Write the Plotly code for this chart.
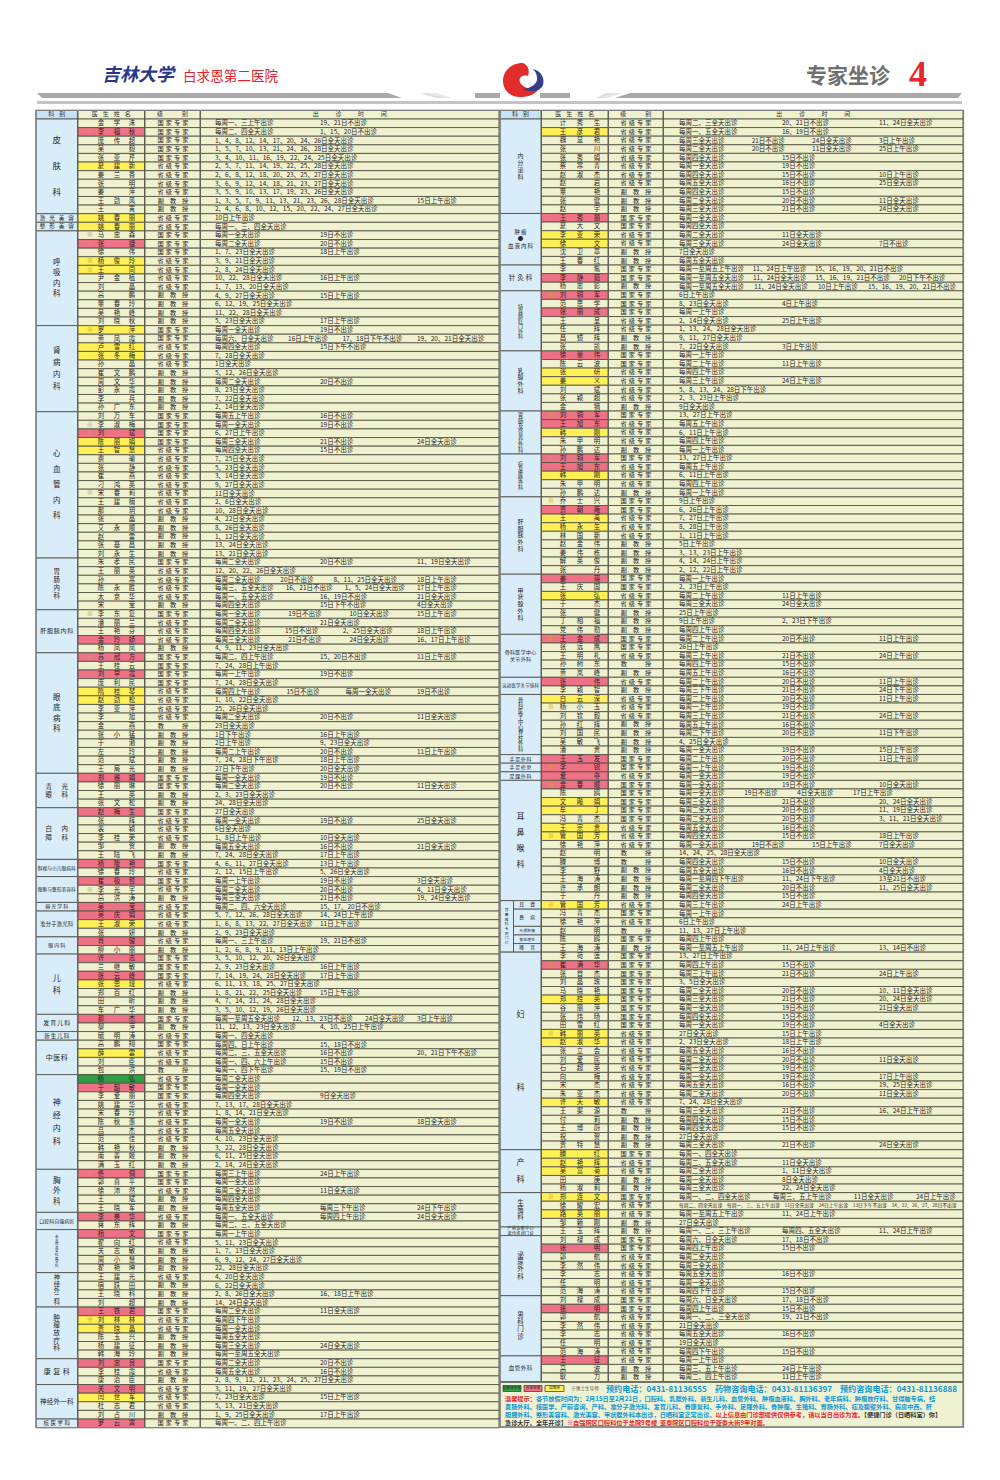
#!/usr/bin/env python3
"""Expert clinic timetable poster drawn as a bar/text chart on a pixel axis."""

import plotly.graph_objects as go

# ── Left table data ──
left_dept_labels = [
    "皮\n肤\n科", "激光美容", "整形美容", "呼\n吸\n内\n科", "肾\n病\n内\n科",
    "心\n血\n管\n内\n科", "胃\n肠\n内\n科", "肝胆胰内科", "眼\n底\n病\n科",
    "青光\n眼科", "白内\n障科", "斜视与小儿眼病科", "眼眶与整形美容科", "弱光学科",
    "准分子激光科", "眼内科", "儿\n科", "发育儿科", "新生儿科", "中医科",
    "神\n经\n内\n科", "胸\n外\n科", "口腔科自强病区", "老\n年\n病\n及\n全\n科\n医\n学\n科",
    "神\n经\n外\n二\n科", "肿\n瘤\n放\n疗\n科", "康复科",
    "神经外一科", "核医学科",
]
left_dept_rows = [11, 1, 1, 11, 10, 17, 6, 5, 14, 4, 6, 2, 3, 1, 3, 2, 7, 2, 1, 4, 11, 5, 2, 5, 4, 6, 3, 4, 1]

left_names = [
    "金学洙", "※李福秋", "庞传超", "吴毅", "张亚芹", "夏建新", "姜兰香", "张明", "姜萍", "王劲风", "王寅",
    "姚春丽", "姚春丽",
    "※马忠森", "※张捷", "徐伟", "※杨俊玲", "※王同", "尹金植", "刘晶", "高鹏", "董春玲", "吴艳峰", "刘晓秋",
    "※罗萍", "黄凤霞", "卢雪红", "张冬梅", "孙晶", "崔文鹏", "周文华", "彭永霞", "李兵", "孙广东",
    "刘万车", "※李淑梅", "※刘斌", "陈丽娟", "王智慧", "费瑜", "张静", "崔燕", "刁鸿英", "※宋春莉", "王建楠",
    "那玥", "张晶", "艾永顺", "赵雷", "张基昌", "刘永生",
    "朱孝民", "王丽英", "孙寒", "陈永胜", "太京华", "宋莹",
    "※李东复", "潘丽兰", "王艳芬", "金玲娇", "杨凤凤",
    "※苏冠方", "王桂云", "刘早霞", "庞利民", "隋桂琴", "赵劲松", "李亚萍", "李旭", "金燕", "张小猛", "于渤",
    "左玲", "范斌", "王局光",
    "※郑雅娟", "徐丽琳", "王英", "张文松",
    "赵梅生", "张辉", "裴颖", "李桂荣", "邹贺", "王陆飞",
    "杨隆艳", "徐春玲",
    "崔极哲", "※李光宇", "高洪涛",
    "吴莹",
    "吴庆娟", "王淑荣", "张妍",
    "肖骏", "柳小丽",
    "许志", "兰继敏", "张云峰", "张思瑾", "郑百红", "田昕", "车广华",
    "那杰", "黎萍",
    "毓明涛",
    "高鹏翔", "薛雲", "刘臣", "包洪",
    "杨弘", "于韶敏", "李爱丽", "姚建华", "宋春玲", "陈秋惠", "吕杰", "范佳", "韩艳秋", "南善姬", "满玉红",
    "※佟倜", "郭喜平", "徐沛然", "王斌", "王晓军",
    "李美华", "蒋东辉",
    "杨文", "翟向红", "关志敏", "周小慧", "翟艳坤",
    "王建光", "宿跃田", "王晓科", "刘超",
    "※王铁君", "※刘林林", "贾晓晶", "陈玉兴", "杨建征", "韩海玲",
    "刘忠良", "李桂霞", "康治臣",
    "关文明", "闫世军", "杜志君", "刘占川",
    "罗云霄",
]
# . plain, r pink, y yellow, g green
left_marks = "".join([
    ".r...y.....", "yy", ".r.yy......", "y.yy......", "..ryy............", "......", "...r.",
    "r.r.yy........", "r...", "r.....", "r.", "r..", "r", "ry.", "r.", "r.ry...", "r.", ".", ".y..",
    "gr.........", "r....", "r.", "r....", "....", "ryy...", "r..", "ry..", "r",
])
# G national expert, S provincial expert, J professor, F associate professor
left_levels = "".join([
    "GGGGGSSSSFF", "SS", "GGGSSSSFFFF", "GGSSSFFFFF", "GGGGSSSSSSSSFFFFF", "GSSSSF", "GSSSF",
    "GGGGSSSSJFFFFF", "GGFF", "GSSSFF", "GS", "GSF", "S", "SSF", "SF", "GGGSFFF", "GF", "S", "GSSJ",
    "SGGSSSSSFFF", "GGSFF", "SF", "GSFFF", "SFFF", "GSSFFF", "GSF", "SSSF", "G",
])
# | steps to the next timetable column, / flows the pieces along the row
left_times = [
    "每周一、三上午出诊|19、21日不出诊", "每周二、四全天出诊|1、15、20日不出诊",
    "1、4、8、12、14、17、20、24、26日全天出诊", "1、5、7、10、13、21、24、26、28日全天出诊",
    "3、4、10、11、16、19、22、24、25日全天出诊", "2、5、7、11、14、19、22、25、28日全天出诊",
    "2、6、8、12、18、20、23、25、27日全天出诊", "3、6、9、12、14、18、21、23、27日全天出诊",
    "3、5、9、10、13、17、19、23、26日全天出诊", "1、3、5、7、9、11、13、21、23、26、28日全天出诊||15日上午出诊",
    "2、4、6、8、10、12、15、20、22、24、27日全天出诊",
    "10日上午出诊", "每周一、三、四全天出诊",
    "每周一全天出诊|19日不出诊", "每周二全天出诊|20日不出诊", "1、7、23日全天出诊|18日上午出诊", "3、9、21日全天出诊",
    "2、8、24日全天出诊", "10、22、28日全天出诊|16日上午出诊", "1、7、13、20日全天出诊", "4、9、27日全天出诊|15日上午出诊",
    "6、12、19、25日全天出诊", "11、22、28日全天出诊", "5、23日全天出诊|17日上午出诊",
    "每周一全天出诊|19日不出诊", "每周六、日全天出诊/16日上午出诊/17、18日下午不出诊/19、20、21日全天出诊",
    "每周四全天出诊|15日下午不出诊", "7、28日全天出诊", "1日全天出诊", "5、12、26日全天出诊", "每周二全天出诊|20日不出诊",
    "8、23日全天出诊", "7、22日全天出诊", "2、14日全天出诊",
    "每周五上午出诊|16日不出诊", "每周一全天出诊|19日不出诊", "6、27日上午出诊", "每周三全天出诊|21日不出诊|24日全天出诊",
    "每周四全天出诊|15日不出诊", "7、25日全天出诊", "5、23日全天出诊", "3、14日全天出诊", "9、27日全天出诊", "11日全天出诊",
    "2、6日全天出诊", "10、28日全天出诊", "4、22日全天出诊", "8、26日全天出诊", "1、12日全天出诊", "13、24日全天出诊",
    "13、21日全天出诊",
    "每周二全天出诊|20日不出诊|11、19日全天出诊", "12、20、22、26日全天出诊",
    "每周二全天出诊/20日不出诊/8、11、25日全天出诊/18日上午出诊", "每周三、五全天出诊/16、21日不出诊/1、5、24日全天出诊/17日上午出诊",
    "每周一、五全天出诊|16、19日不出诊|21日全天出诊", "每周四全天出诊|15日下午不出诊|4日全天出诊",
    "每周一全天出诊/19日不出诊/10日全天出诊/15日上午出诊", "每周二全天出诊|21日全天出诊",
    "每周四全天出诊/15日不出诊/2、25日全天出诊/18日上午出诊", "每周三全天出诊/21日不出诊/24日全天出诊/16、17日上午出诊",
    "4、9、11、23日全天出诊",
    "每周二、四上午出诊|15、20日不出诊|11日上午出诊", "7、24、28日上午出诊", "每周一上午出诊|19日不出诊", "7、24、28日全天出诊",
    "每周四上午出诊/15日不出诊/每周一全天出诊/19日不出诊", "1、10、22日全天出诊", "25、26日全天出诊",
    "每周二全天出诊|20日不出诊|11日全天出诊", "23日全天出诊", "1日下午出诊|16日上午出诊", "2日上午出诊|9、23日全天出诊",
    "每周二上午出诊|20日不出诊|11日上午出诊", "7、24、28日下午出诊|18日上午出诊", "27日下午出诊|20日全天出诊",
    "每周一全天出诊|19日不出诊", "每周二全天出诊|20日不出诊|11日全天出诊", "2、3、23日全天出诊", "24、28日全天出诊",
    "27日全天出诊", "每周一全天出诊|19日不出诊|25日全天出诊", "6日全天出诊", "1、8日上午出诊|10日全天出诊",
    "每周五全天出诊|16日不出诊|21日全天出诊", "7、24、28日全天出诊|17日上午出诊",
    "4、6、11、27日全天出诊|13日上午出诊", "2、12、15日上午出诊|5、26日全天出诊",
    "每周一上午出诊|19日不出诊|3日全天出诊", "每周二全天出诊|20日不出诊|4、11日全天出诊", "每周三全天出诊|21日不出诊|19、24日全天出诊",
    "每周二、四、六全天出诊|15、17、20日不出诊",
    "5、7、12、26、28日全天出诊|14、24日上午出诊", "1、6、8、13、22、27日全天出诊|11日上午出诊", "2、9、23日全天出诊",
    "每周一、三上午出诊|19、21日不出诊", "1、2、6、8、9、11、13日上午出诊",
    "3、5、10、12、20、26日全天出诊", "2、9、23日全天出诊|16日上午出诊", "7、14、19、24、28日全天出诊|17日上午出诊",
    "6、11、13、18、25、27日全天出诊", "1、8、21、22、25日全天出诊|15日上午出诊", "4、7、14、21、24、28日全天出诊",
    "3、5、10、12、19、26日全天出诊",
    "每周一至周五全天出诊/12、13、23日不出诊/24日全天出诊/3日上午出诊", "11、12、13、23日全天出诊|4、10、25日上午出诊",
    "每周一、四全天出诊",
    "每周四、日上午出诊|15、18日不出诊", "每周二、三、五全天出诊|16日不出诊|20、21日下午不出诊", "每周一、四、六上午出诊|15日不出诊",
    "每周一、四下午出诊|15、19日不出诊",
    "每周二全天出诊", "每周一全天出诊", "每周四全天出诊|9日全天出诊", "7、13、17、28日全天出诊", "1、8、14、21日全天出诊",
    "每周一全天出诊|19日不出诊|18日全天出诊", "每周五全天出诊", "4、10、23日全天出诊", "3、22、28日全天出诊", "6、11、25日全天出诊",
    "2、14、24日全天出诊",
    "每周三上午出诊|24日上午出诊", "每周一全天出诊", "每周二全天出诊|11日全天出诊", "每周四全天出诊",
    "每周五全天出诊|每周三下午出诊|24日下午出诊",
    "每周一、五全天出诊|每周四上午出诊|24日全天出诊", "每周二、三、五全天出诊",
    "每周一上午出诊", "5、11、23日全天出诊", "1、7、13日全天出诊", "6、9、12、24、27日全天出诊", "22、28日全天出诊",
    "4、20日全天出诊", "6、22日全天出诊", "2、8、26日全天出诊|16、18日上午出诊", "14、24日全天出诊",
    "每周二全天出诊|11日全天出诊", "每周四下午出诊", "每周一全天出诊", "每周五全天出诊", "每周三全天出诊|24日全天出诊",
    "每周一至周五全天出诊",
    "每周二全天出诊|20日不出诊", "每周五全天出诊|16日不出诊", "2、8、9、12、21、23、24、25、27日全天出诊",
    "3、11、19、27日全天出诊", "7、23日全天出诊|15日上午出诊", "5、13、21日全天出诊", "1、9、25日全天出诊|17日上午出诊",
    "每周一、二、四上午出诊",
]

# ── Right table data ──
right_dept_labels = [
    "内\n分\n泌\n科", "肿瘤\n●\n血液内科", "针灸科", "结\n直\n肠\n肛\n门\n外\n科", "乳\n腺\n外\n科",
    "胃\n肠\n及\n营\n养\n外\n科", "疝\n及\n腹\n壁\n外\n科", "肝\n胆\n胰\n外\n科", "甲\n状\n腺\n外\n科",
    "骨科医学中心\n关节外科", "运动医学关节镜科", "骨\n科\n医\n学\n中\n心\n脊\n柱\n外\n科",
    "手足外科", "手足修复", "足踝外科", "耳\n鼻\n喉\n科", "耳\n鼻\n喉\n科\n专\n病\n门\n诊",
    "妇\n科", "产\n科", "生\n殖\n科", "产前诊断中心\n遗传咨询门诊", "泌\n尿\n外\n科", "男\n科\n门\n诊", "血管外科",
]
right_dept_rows = [11, 6, 3, 7, 7, 5, 5, 9, 7, 5, 2, 7, 1, 1, 1, 14, 6, 23, 5, 4, 1, 7, 7, 3]
right_sub_labels = ["耳聋", "鼻病", "头颈肿瘤", "变应增生", "嗓音"]
right_sub_rows = [1, 2, 1, 1, 1]

right_names = [
    "计秀生", "王彦君", "魏显艳", "张川", "张秀娟", "蔡寒青", "赵淑杰", "赵岩", "董艳", "张健", "赵宇",
    "王秀丽", "夏大文", "李亚荣", "徐文", "沈卫章", "王春红",
    "李鸳", "李静茹", "杨忠影",
    "※刘铜军", "范思学", "张丽成", "王呈", "任辉", "昌镜辉", "张凯",
    "徐曼伟", "陈云波", "张研", "姜义", "刘斌", "张颖超", "金镝",
    "※刘铜军", "王旭东", "韩刚", "朱甲明", "孙鹏达",
    "※刘铜军", "王旭东", "韩刚", "朱甲明", "孙鹏达",
    "※乔士兴", "贾朝庵", "王禹", "杨永生", "林国新", "赵金伟", "姜伟栋", "解英俊", "张丹",
    "姜瑛", "王庆国", "张弘", "于杰", "张健", "丁相福", "党伟勤",
    "※王金成", "张远鹰", "王明礼", "孙树东", "黄岚峰",
    "张伟", "李颖智",
    "白云深", "※杨小玉", "刘钦毅", "孙红辉", "刘国民", "吴敏飞", "潘贵",
    "王玉发", "※李锐", "爱非",
    "※金春顺", "陈鸥", "文飚娟", "牟丁", "冯青杰", "王宗贵", "※管国芳", "徐艳萍", "赵明", "滕博", "李野",
    "王海涛", "许承朗", "于丹",
    "※管国芳", "冯青杰", "徐艳萍", "赵明", "陈鸥", "王海涛",
    "李荷莲", "※崔满华", "张首杰", "刘晶珠", "马晓艳", "郑桂英", "谷丽萍", "张炜旸", "田雪红", "※韩丽英", "赵淑华",
    "张立会", "刘爱民", "石超英", "向梅", "宋杰", "朱亚杰", "许天敏", "王渠源", "付莉", "王博蔚", "祝贺", "贾特慧",
    "滕红", "赵艳辉", "吴富菊", "田庚", "杨淑莉",
    "※郑连文", "徐耀宏", "路英丽", "邹赖刚",
    "王玉辉",
    "刘禄成", "张明", "郭航", "李然伟", "李志", "任明", "范海涛",
    "刘禄成", "张明", "郭航", "李然伟", "李志", "任明", "范海涛",
    "王征", "高波", "耿力",
]
right_marks = "".join([
    ".y.........", "r.yy..", ".r.", "r.r....", "r.yy...", "rry..", "rry..", ".ryy.....", "r.y....",
    "r....", "r.", "y......", "r", "r", "r", "r.yy.yy.......", "y.....",
    ".r...y...yy......y.....", "yyy..", "y.y.", ".", ".r.....", ".r.....", "r..",
])
right_levels = "".join([
    "SSSSSSSSFFF", "GGSSFF", "GGF", "GGGSSFF", "GGSSSSF", "GSSSF", "GSSSF", "GGSSSFFFF", "GGSSFFF",
    "GGSJF", "SF", "SSSFFFF", "G", "G", "S", "GGGGGSSSJJFFFF", "SGSJGF",
    "GGGGGGGGGSSSSSSSSSJFFFF", "GSSFF", "GSSF", "F", "GGSSSSS", "GGSSSSS", "SFF",
])
right_times = [
    "每周二、三全天出诊|20、21日不出诊|11、24日全天出诊", "每周一、五全天出诊|16、19日不出诊",
    "每周三全天出诊/21日不出诊/24日全天出诊/3日上午出诊", "每周二全天出诊/20日不出诊/11日全天出诊/25日上午出诊",
    "每周四全天出诊|15日不出诊", "每周一全天出诊|19日不出诊", "每周四全天出诊|15日不出诊|10日上午出诊",
    "每周五全天出诊|16日不出诊|25日全天出诊", "每周四全天出诊|15日不出诊", "每周二全天出诊|20日不出诊|11日全天出诊",
    "每周三全天出诊|21日不出诊|24日全天出诊",
    "每周一全天出诊", "每周四全天出诊", "每周二全天出诊|11日全天出诊", "每周三全天出诊|24日全天出诊|7日不出诊", "7日全天出诊",
    "每周五全天出诊",
    "每周一至周五上午出诊/11、24日上午出诊/15、16、19、20、21日不出诊",
    "每周一至周五全天出诊/11、24日全天出诊/15、16、19、21日不出诊/20日下午不出诊",
    "每周一至周五全天出诊/11、24日全天出诊/10日上午出诊/15、16、19、20、21日不出诊",
    "6日上午出诊", "8、23日全天出诊|4日上午出诊", "每周一上午出诊", "2、14日全天出诊|25日上午出诊", "1、13、24、28日全天出诊",
    "9、11、27日全天出诊", "7、22日全天出诊|3日上午出诊",
    "每周一上午出诊", "每周二上午出诊|11日上午出诊", "每周四上午出诊", "每周三上午出诊|24日上午出诊", "5、8、13、24、28日下午出诊",
    "2、3、23日上午出诊", "9日全天出诊",
    "13、27日上午出诊", "每周五上午出诊", "6、11日上午出诊", "每周四上午出诊", "每周一上午出诊",
    "13、27日上午出诊", "每周五上午出诊", "6、11日上午出诊", "每周四上午出诊", "每周一上午出诊",
    "9日上午出诊", "6、26日上午出诊", "7、27日上午出诊", "8、28日上午出诊", "1、11日上午出诊", "5日上午出诊", "3、13、23日上午出诊",
    "4、14、24日上午出诊", "2、12、22日上午出诊",
    "每周一上午出诊", "2、23日上午出诊", "每周二上午出诊|11日上午出诊", "每周三全天出诊|24日全天出诊", "25日上午出诊",
    "9日上午出诊|2、23日下午出诊", "每周四上午出诊",
    "每周二上午出诊|20日不出诊|11日上午出诊", "26日上午出诊", "每周三上午出诊|21日不出诊|24日上午出诊", "每周四上午出诊|15日不出诊",
    "每周五上午出诊|16日不出诊",
    "每周二上午出诊|20日不出诊|11日上午出诊", "每周三下午出诊|21日不出诊|24日下午出诊",
    "每周二上午出诊|20日不出诊|11日上午出诊", "每周一上午出诊|19日不出诊", "每周三上午出诊|21日不出诊|24日上午出诊",
    "每周五上午出诊|16日不出诊", "每周二下午出诊|20日不出诊|11日下午出诊", "4、25日全天出诊", "每周一全天出诊|19日不出诊|15日上午出诊",
    "每周二上午出诊|20日不出诊|11日上午出诊", "每周一上午出诊|19日不出诊", "每周一全天出诊|19日不出诊",
    "每周一全天出诊|19日不出诊|10日全天出诊", "每周一全天出诊/19日不出诊/4日全天出诊/17日上午出诊",
    "每周三全天出诊|21日不出诊|20、24日全天出诊", "每周二全天出诊|20日不出诊|11、19日全天出诊",
    "每周二全天出诊|20日不出诊|3、11、21日全天出诊", "每周五全天出诊|16日不出诊", "每周四全天出诊|15日不出诊|18日上午出诊",
    "每周一全天出诊/19日不出诊/15日上午出诊/7日全天出诊", "14、24、25、28日全天出诊", "每周四全天出诊|15日不出诊|10日全天出诊",
    "每周五全天出诊|16日不出诊|4日全天出诊", "每周一至周四下午出诊|11、24日下午出诊|13至21日不出诊",
    "每周二全天出诊|20日不出诊|11、25日全天出诊", "每周四全天出诊|15日不出诊",
    "每周三上午出诊|24日上午出诊", "每周一上午出诊", "6日上午出诊", "11、13、27日上午出诊", "每周四上午出诊",
    "每周一至周五上午出诊|11、24日上午出诊|13、14日不出诊",
    "13、27日上午出诊", "每周四上午出诊|15日不出诊", "每周三上午出诊|21日不出诊|24日上午出诊", "3、5日全天出诊",
    "每周二全天出诊|20日不出诊|10、11日全天出诊", "每周三全天出诊|21日不出诊|20、24日全天出诊", "每周一全天出诊|19日不出诊|21日全天出诊",
    "每周四全天出诊|15日不出诊", "每周一全天出诊|19日不出诊|4日全天出诊", "27日全天出诊|15日上午出诊", "2、23日全天出诊|18日上午出诊",
    "每周五全天出诊|16日不出诊", "每周二全天出诊|20日不出诊|11日全天出诊", "每周一全天出诊|19日不出诊",
    "每周一全天出诊|19日不出诊|17日上午出诊", "每周五全天出诊|16日不出诊|19、25日全天出诊", "每周二全天出诊|20日不出诊|11日全天出诊",
    "7、24、28日全天出诊", "每周三全天出诊|21日不出诊|16、24日上午出诊", "每周四全天出诊|15日不出诊", "每周四全天出诊|15日不出诊",
    "27日全天出诊", "每周三全天出诊|21日不出诊|24日全天出诊",
    "每周一、四全天出诊", "每周二、五全天出诊|11日全天出诊", "每周二全天出诊|1、11日全天出诊", "每周一全天出诊|8日全天出诊",
    "每周三全天出诊|22、24日全天出诊",
    "每周一、二、四全天出诊/每周三、五上午出诊/11日全天出诊/24日上午出诊",
    "每周二、四全天出诊  每周一、三、五上午出诊  11日全天出诊  24日上午出诊  13日下午不出诊  14、22、26、27、28日不出诊",
    "每周一至周五上午出诊|11、24日上午出诊", "27日全天出诊",
    "每周一、二、三上午出诊|每周四、五全天出诊|11、24日上午出诊",
    "每周六、日全天出诊|17、18日不出诊", "每周四上午出诊|15日不出诊", "每周二全天出诊", "每周三全天出诊", "每周五全天出诊|16日不出诊",
    "每周一全天出诊", "每周四下午出诊|15日不出诊",
    "每周六、日全天出诊|17、18日不出诊", "每周四上午出诊|15日不出诊", "每周一、二、三全天出诊|19、21日不出诊", "21日全天出诊",
    "每周五全天出诊|16日不出诊", "19日全天出诊", "每周四下午出诊|15日不出诊",
    "每周一上午出诊", "每周三、五上午出诊|24日上午出诊", "每周二、四上午出诊|11日上午出诊",
]

level_text = {"G": "国家专家", "S": "省级专家", "J": "教授", "F": "副教授"}
header_labels = ["科别", "医生姓名", "级别", "出诊时间"]

footer_phones = ["预约电话：0431-81136555", "药物咨询电话：0431-81136397", "预约咨询电话：0431-81136888"]
footer_chips = ["国家级专家", "省级专家", "副教授"]
footer_lines = [
    [("温馨提示：", "red"), ("各节放假时间为：2月15日至2月21日，口腔科、乳腺外科、新生儿科、血管外科、肿瘤血液科、胸外科、老年病科、肿瘤放疗科、甘得脑专病、结", "blue")],
    [("直肠外科、核医学、产前咨询、产科、准分子激光科、发育儿科、骨康复科、手外科、足踝外科、骨肿瘤、生殖科、胃肠外科、疝及腹壁外科、病房中西、肝", "blue")],
    [("胆胰外科、整形美容科、激光美容、甲状腺外科本出诊，日晒科室正常出诊。", "blue"), ("以上信息由门诊部提供仅供参考，请以当日出诊为准。", "red"), ("【便捷门诊（日晒科室）你】", "black")],
    [("急诊大厅、全年开诊】", "black"), ("※自强院区口腔科位于总院9号楼  亚泰院区口腔科位于亚泰大街9甲对面。", "red")],
]

assert len(left_names) == len(left_marks) == len(left_levels) == len(left_times) == sum(left_dept_rows)
assert len(right_names) == len(right_marks) == len(right_levels) == len(right_times) == sum(right_dept_rows)

# ── Layout constants (page pixels) ──
FONT = "Noto Sans CJK SC"
FILL = {".": "#eff1cf", "r": "#ee7186", "y": "#fff055", "g": "#2f9e44"}
DEPT_BG = "#d8ecfa"
LINE = "#55554a"
INK = "#262626"
FRAME = "#808080"
TEXT_COLORS = {"red": "#e6252c", "blue": "#1296d6", "black": "#333333"}
Y0 = 123.3
TEXT_DY = 0.4  # CJK glyphs sit high in their line box

LEFT = dict(dept=(36, 77.5), name=(78, 144.5), level=(145, 200), time=(200.5, 499),
            name_x=(101, 117, 132), star=90, level_x=173, time_x=(215, 320, 417), limit=497,
            row_h=(1423.3 - Y0) / 151)
RIGHT = dict(dept=(500, 541), name=(541.5, 608), level=(608.5, 663), time=(663.5, 963),
             name_x=(563, 580, 597), star=551, level_x=636, time_x=(679, 782, 879), limit=961,
             row_h=(1377.3 - Y0) / 146)

# char pitch x, line pitch y, font size for each department label
left_dept_style = [
    (0, 26, 8.5), (9.5, 0, 5.6), (9.5, 0, 5.6), (0, 10.3, 7.5), (0, 12, 7.5), (0, 15.4, 7.5), (0, 8, 6.5), (6.75, 0, 6),
    (0, 10.5, 7.5), (16, 8, 6.5), (16, 9, 6.5), (4.75, 0, 4.7), (4.75, 0, 4.7), (6, 0, 5), (5.5, 0, 5.3), (6, 0, 5),
    (0, 12, 8), (7, 0, 6), (6.5, 0, 5.5), (7.5, 0, 7), (0, 13, 8), (0, 10.5, 7.5), (5, 0, 4.9), (0, 3.6, 3.5),
    (0, 6.2, 6.2), (0, 7.6, 6.8), (9.5, 0, 7), (6.8, 0, 6.5), (7, 0, 5.5),
]
right_dept_style = [
    (0, 7.1, 6), (6.5, 6.7, 5.5), (8.5, 0, 6.5), (0, 5, 5), (0, 6.8, 6), (0, 5.8, 5.2), (0, 4.8, 5), (0, 6.7, 6),
    (0, 6.7, 6), (5.3, 6.6, 5), (4.6, 0, 4.4), (0, 5.4, 5.2), (5.7, 0, 5), (5.7, 0, 5), (5.7, 0, 5),
    (0, 16, 8), (0, 4.7, 3.8), (0, 73, 8), (0, 17, 8), (0, 7, 6.5), (4.4, 5, 4), (0, 7.4, 6.5), (0, 7.4, 6.5), (6, 0, 5.5),
]
LEVEL_PITCH = {4: 8.3, 3: 12.2, 2: 24.3}
TIME_SIZE = 6.5
# last piece of a flowed row when it does not sit on the third timetable column
flow_last_x = {"郑连文": 916, "陈鸥": 853, "杨忠影": 868, "李静茹": 899, "李鸳": 815}


def text_width(text, size):
    narrow = sum(c.isdigit() or c == " " for c in text)
    return (len(text) - narrow) * size + narrow * size * 0.56


fig = go.Figure()
tx, ty, tt, ts, tc = [], [], [], [], []  # centred text
rx, ry, rt, rs = [], [], [], []          # left-aligned timetable text


def put(x, y, text, size, color=INK):
    tx.append(x), ty.append(y + TEXT_DY), tt.append(text), ts.append(size), tc.append(color)


def spread(center_x, y, chars, pitch, size, color=INK):
    for i, ch in enumerate(chars):
        put(center_x + (i - (len(chars) - 1) / 2) * pitch, y, ch, size, color)


def add_cells(ys, span, heights, colors):
    fig.add_trace(go.Bar(
        y=ys, x=[span[1] - span[0]] * len(ys), base=[span[0]] * len(ys), width=heights,
        orientation="h", marker=dict(color=colors, line=dict(color=LINE, width=0.9)),
        hoverinfo="skip", showlegend=False,
    ))


def draw_table(cfg, dept_labels, dept_rows, dept_style, names, marks, levels, times):
    h = cfg["row_h"]
    ys = [Y0 + i * h for i in range(len(names))]

    # header row
    hy = Y0 - h
    for key, color in [("dept", "#c7e2f5"), ("name", FILL["."]), ("level", FILL["."]), ("time", FILL["."])]:
        add_cells([hy], cfg[key], [h], [color])
    for key, label, pitch in zip(("dept", "name", "level", "time"), header_labels, (11, 11, 25, 22.7)):
        spread(sum(cfg[key]) / 2, hy - 0.3, label, pitch, 6, "#333333")

    # row cells
    add_cells(ys, cfg["name"], [h] * len(ys), [FILL[m] for m in marks])
    add_cells(ys, cfg["level"], [h] * len(ys), [FILL["."]] * len(ys))
    add_cells(ys, cfg["time"], [h] * len(ys), [FILL["."]] * len(ys))

    # department column
    row = 0
    for label, n, (pitch_x, pitch_y, size) in zip(dept_labels, dept_rows, dept_style):
        top = Y0 - h / 2 + row * h
        center_y = top + n * h / 2
        span = cfg["dept"]
        center_x = sum(span) / 2
        if label == "耳\n鼻\n喉\n科\n专\n病\n门\n诊":
            split = span[0] + 13.5
            span = (span[0], split)
            center_x = sum(span) / 2
            sub = 0
            for sub_label, k in zip(right_sub_labels, right_sub_rows):
                add_cells([top + (sub + k / 2) * h], (split, cfg["dept"][1]), [k * h], [DEPT_BG])
                step = 4 if len(sub_label) == 4 else 11
                spread((split + cfg["dept"][1]) / 2, top + (sub + k / 2) * h, sub_label, step,
                       3.8 if len(sub_label) == 4 else 4.8)
                sub += k
        add_cells([center_y], span, [n * h], [DEPT_BG])
        lines = label.split("\n")
        for j, line in enumerate(lines):
            spread(center_x, center_y + (j - (len(lines) - 1) / 2) * pitch_y, line, pitch_x, size)
        row += n

    # names, levels, times
    for y, name, level, time in zip(ys, names, levels, times):
        if name.startswith("※"):
            put(cfg["star"], y, "※", 6.4, "#c9a43c")
            name = name[1:]
        slots = cfg["name_x"] if len(name) == 3 else (cfg["name_x"][0], cfg["name_x"][2])
        for x, ch in zip(slots, name):
            put(x, y, ch, 6.4)
        chars = level_text[level]
        spread(cfg["level_x"], y, chars, LEVEL_PITCH[len(chars)], 6.2)

        size = 4.8 if len(time) > 50 else TIME_SIZE
        if "/" in time:
            parts = time.split("/")
            widths = [text_width(p, size) for p in parts]
            last = flow_last_x.get(name, cfg["time_x"][2])
            x = cfg["time_x"][0]
            gap = (last - x - sum(widths[:-1])) / (len(parts) - 1)
            for p, w in zip(parts, widths):
                rx.append(x), ry.append(y + TEXT_DY), rt.append(p), rs.append(size)
                x += w + gap
        else:
            for x, p in zip(cfg["time_x"], time.split("|")):
                if p:
                    rx.append(x), ry.append(y + TEXT_DY), rt.append(p.replace("  ", "\u2002\u2002")), rs.append(size)


draw_table(LEFT, left_dept_labels, left_dept_rows, left_dept_style, left_names, left_marks, left_levels, left_times)
draw_table(RIGHT, right_dept_labels, right_dept_rows, right_dept_style, right_names, right_marks, right_levels, right_times)

# ── Footer box on the right ──
add_cells([1404.7], (500, 963), [44.6], ["#eef2d2"])
for chip, color, span in zip(footer_chips, ("#2f9e44", "#ee7186", "#fff055"), ((503, 521), (524, 542), (545, 564))):
    add_cells([1388.5], span, [6], [color])
    put(sum(span) / 2, 1388, chip, 3.6)
put(585, 1388, "※博士生导师", 4.6, "#555555")
for x, phone in zip((604, 713, 838), footer_phones):
    fig.add_annotation(x=x, y=1388.3, text=f"<b>{phone}</b>", showarrow=False, xanchor="left",
                       font=dict(family=FONT, size=8.1, color=TEXT_COLORS["blue"]))
for y, parts in zip((1398.5, 1406.5, 1414.5, 1422.5), footer_lines):
    html = "".join(f'<span style="color:{TEXT_COLORS[c]}"><b>{t}</b></span>' for t, c in parts)
    fig.add_annotation(x=503, y=y, text=html, showarrow=False, xanchor="left",
                       font=dict(family=FONT, size=6.2))

fig.add_trace(go.Scatter(
    x=tx, y=ty, text=tt, mode="text", textposition="middle center",
    textfont=dict(family=FONT, size=ts, color=tc), hoverinfo="skip", showlegend=False, cliponaxis=False,
))
fig.add_trace(go.Scatter(
    x=rx, y=ry, text=rt, mode="text", textposition="middle right",
    textfont=dict(family=FONT, size=rs, color=INK), hoverinfo="skip", showlegend=False, cliponaxis=False,
))

# ── Table frames ──
table_frames = [(36, 110.4, 499.5, 1427.6), (500, 110.4, 963.5, 1427.2)]
for x0, y0, x1, y1 in table_frames:
    fig.add_shape(type="rect", x0=x0, y0=y0, x1=x1, y1=y1, line=dict(color=FRAME, width=1.3), xref="x", yref="y")

# ── Masthead: bands, logo and titles ──
BAND = "#a9a9a9"
masthead_paths = [
    ("M37,93 L388,93 L402,98 L42,98 Z", BAND),
    ("M420,93 L428,93 L446,98 L436,98 Z", "#dddddd"),
    ("M430,93 L436,93 L452,98 L446,98 Z", "#e6e6e6"),
    ("M475,93 L500,93 L500,98 L475,98 Z", BAND),
    ("M540,93 L570,93 L570,98 L540,98 Z", BAND),
    ("M606,93 L596,98 L606,98 L616,93 Z", "#dddddd"),
    ("M622,93 L608,98 L598,98 L614,93 Z", "#e6e6e6"),
    ("M630,93 L962,93 L958,98 L615,98 Z", BAND),
    ("M37,101 L962,101 L962,104 L37,104 Z", "#c4c4c4"),
    ("M523,63 C510,63 503,72 503,81 C503,91 512,98 522,97 C530,97 536,93 540,88 "
     "C534,90 526,89 522,85 C516,79 522,74 528,76 C530,70 528,65 523,63 Z", "#e22c2b"),
    ("M533,69 C541,71 545,78 543,85 C541,91 532,93 522,89 C530,89 538,84 537,78 C537,74 535,71 533,69 Z", "#333f88"),
]
for path, color in masthead_paths:
    fig.add_shape(type="path", path=path, fillcolor=color, line=dict(width=0), xref="x", yref="y", layer="above")

title_texts = [
    (100, 73, "<b><i>吉林大学</i></b>", FONT, 18, "#2a3788"),
    (181, 75, "白求恩第二医院", FONT, 13.6, "#e0242c"),
    (804, 74, "<b>专家坐诊</b>", FONT, 21, "#707070"),
    (907, 74, "<b>4</b>", "Liberation Serif", 36, "#e6252c"),
]
for x, y, label, family, size, color in title_texts:
    fig.add_annotation(x=x, y=y, text=label, showarrow=False, xanchor="left",
                       font=dict(family=family, size=size, color=color))

fig.update_layout(
    width=1000, height=1480, barmode="overlay", plot_bgcolor="white", paper_bgcolor="white",
    margin=dict(l=0, r=0, t=0, b=0), showlegend=False,
    xaxis=dict(range=[0, 1000], visible=False, fixedrange=True),
    yaxis=dict(range=[1480, 0], visible=False, fixedrange=True),
)

fig.write_html("out.html", config={"displayModeBar": False},
               post_script="document.body.style.margin='0';")
